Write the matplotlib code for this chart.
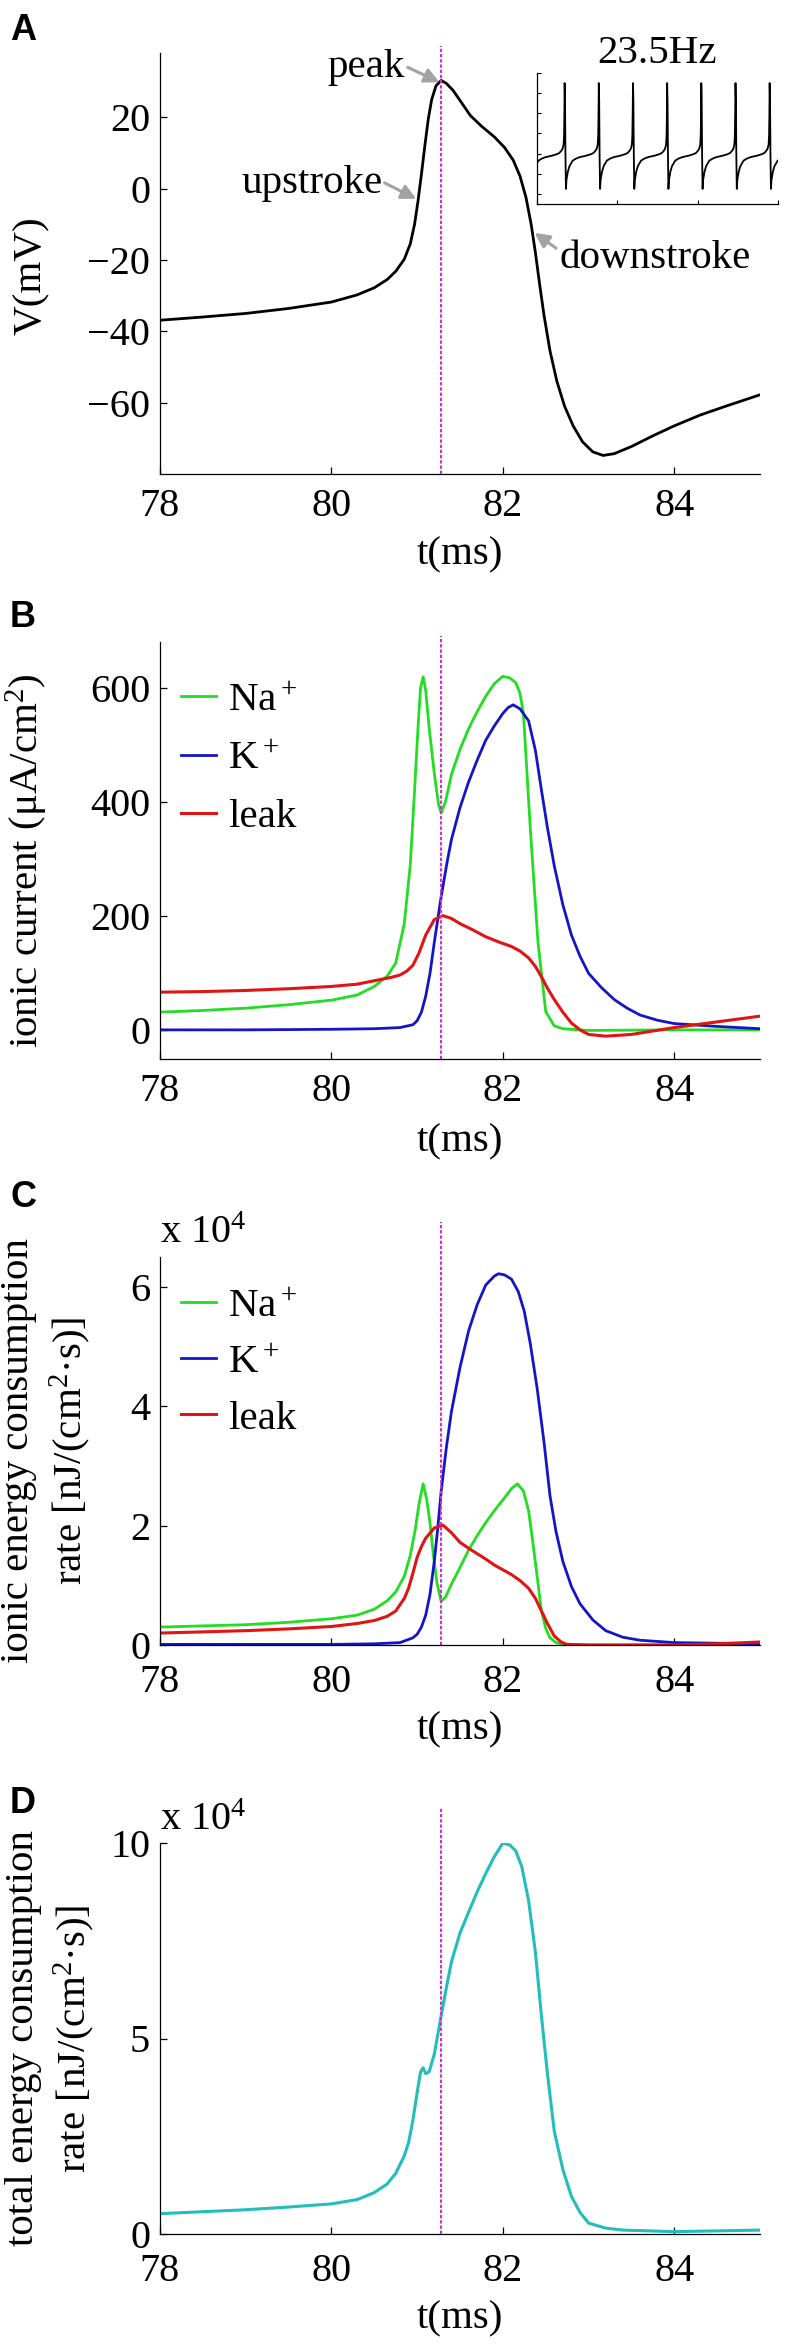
import numpy as np
import matplotlib
matplotlib.use('Agg')
from matplotlib import pyplot as plt

plt.rcParams['font.family'] = ['Liberation Serif', 'DejaVu Serif']
plt.rcParams['mathtext.fontset'] = 'custom'
plt.rcParams['mathtext.rm'] = 'Liberation Serif'
plt.rcParams['mathtext.it'] = 'Liberation Serif:italic'
plt.rcParams['axes.linewidth'] = 0.9

# ---- datos ----
# A: potencial de membrana
tA = [78.0, 78.5, 79.0, 79.5, 80.0, 80.3, 80.5, 80.65, 80.75, 80.85, 80.92, 80.97,
      81.01, 81.05, 81.09, 81.13, 81.17, 81.22, 81.28, 81.34, 81.42, 81.52, 81.62,
      81.75, 81.9, 82.02, 82.12, 82.2, 82.27, 82.33, 82.38, 82.43, 82.48, 82.55,
      82.63, 82.72, 82.82, 82.93, 83.05, 83.17, 83.3, 83.5, 83.75, 84.0, 84.3, 84.6, 85.0]
V = [-36.9, -36.0, -35.0, -33.6, -31.8, -29.8, -27.8, -25.5, -23.2, -19.8, -15.5, -10.0,
     -3.5, 4.0, 12.0, 19.5, 25.0, 28.8, 30.3, 29.5, 27.5, 24.0, 20.5,
     17.5, 14.5, 11.5, 8.0, 3.5, -2.5, -10.0, -18.0, -27.0, -35.5, -45.5,
     -54.0, -61.0, -66.5, -71.0, -73.8, -74.8, -74.3, -72.3, -69.3, -66.5, -63.5, -61.0, -57.8]

# inset: tren de disparos a 23.5 Hz
spike_times = [-8.1, 34.4, 76.9, 119.5, 162.0, 204.5, 247.1, 289.6]
cyc_t = [0, 0.5, 1.0, 1.6, 2.3, 4, 6, 10, 14, 18.7, 27, 33, 36, 38.5, 40, 41.2, 41.8, 42.2]
cyc_v = [30, 12, -40, -75, -66, -58, -52.5, -47, -45, -43.5, -42, -40.5, -39.3, -37, -35, -31, -22, 0]

# B: corrientes ionicas (uA/cm2)
tNa_B = [78, 78.5, 79, 79.5, 80, 80.3, 80.5, 80.65, 80.75, 80.85, 80.92, 80.97, 81.01, 81.04,
         81.07, 81.1, 81.14, 81.2, 81.25, 81.28, 81.33, 81.4, 81.5, 81.6, 81.7, 81.8, 81.9,
         82.0, 82.08, 82.15, 82.2, 82.24, 82.32, 82.41, 82.5, 82.6, 82.7, 83, 84, 85]
INa = [32, 35, 39, 45, 53, 62, 77, 95, 118, 187, 290, 420, 530, 600,
       619, 595, 530, 450, 395, 381, 400, 448, 492, 528, 558, 585, 607,
       620, 617, 609, 590, 555, 354, 154, 33, 8, 3, 0, 1, 1]
tK_B = [78, 79, 80, 80.5, 80.8, 80.95, 81.0, 81.05, 81.1, 81.15, 81.2, 81.28, 81.35, 81.4,
        81.5, 81.6, 81.7, 81.8, 81.9, 82.0, 82.06, 82.12, 82.2, 82.3, 82.38, 82.45, 82.52,
        82.6, 82.7, 82.8, 82.9, 83.0, 83.15, 83.3, 83.45, 83.6, 83.8, 84.0, 84.5, 85]
IK = [1, 1, 2, 3, 5, 10, 17, 32, 60, 100, 154, 234, 295, 334,
      390, 435, 473, 508, 533, 555, 565, 570, 563, 542, 490, 421, 355,
      288, 220, 167, 130, 100, 75, 54, 39, 27, 18, 12, 7, 3]
tL_B = [78, 78.5, 79, 79.5, 80, 80.3, 80.5, 80.7, 80.8, 80.88, 80.95, 81.02, 81.1, 81.2,
        81.3, 81.4, 81.5, 81.65, 81.8, 81.95, 82.1, 82.2, 82.3, 82.38, 82.45, 82.52, 82.6,
        82.7, 82.8, 82.9, 83.0, 83.2, 83.5, 83.75, 84.0, 84.5, 85]
IL = [67, 68, 70, 73, 77, 81, 87, 93, 97, 104, 114, 135, 167, 194,
      201, 196, 187, 176, 164, 155, 147, 139, 127, 112, 94, 74, 54,
      32, 13, 1, -7, -10, -7, -1, 5, 15, 25]

# C: tasa de consumo de energia por canal (nJ/(cm2 s))
tNa_C = [78, 78.5, 79, 79.5, 80, 80.3, 80.5, 80.65, 80.75, 80.85, 80.92, 80.98, 81.02, 81.07,
         81.11, 81.15, 81.19, 81.23, 81.28, 81.33, 81.4, 81.5, 81.6, 81.7, 81.8, 81.9, 82.0,
         82.1, 82.17, 82.24, 82.3, 82.35, 82.4, 82.45, 82.5, 82.55, 82.62, 82.7, 83, 84, 84.5, 85]
ENa = [3000, 3200, 3400, 3800, 4400, 5000, 6000, 7400, 8900, 11500, 15000, 19500, 23500, 27000,
       24500, 20500, 15000, 10500, 7300, 8000, 10200, 13000, 15900, 18300, 20500, 22500, 24300,
       26200, 27000, 25800, 22500, 17200, 11500, 5700, 2800, 1200, 400, 100, 0, 0, 100, 300]
tK_C = [78, 79, 80, 80.5, 80.8, 80.95, 81.0, 81.05, 81.1, 81.15, 81.2, 81.24, 81.28, 81.34,
        81.4, 81.5, 81.6, 81.7, 81.8, 81.9, 81.95, 82.02, 82.1, 82.18, 82.25, 82.32, 82.4,
        82.48, 82.55, 82.62, 82.7, 82.8, 82.9, 83.05, 83.2, 83.4, 83.6, 84, 85]
EK = [100, 100, 100, 200, 400, 1200, 1800, 3000, 5000, 8500, 14000, 19500, 25700, 33000,
      39100, 46500, 52600, 57000, 60300, 61800, 62200, 62000, 61300, 59200, 55900, 50500, 43000,
      34000, 25000, 19000, 14000, 9800, 6900, 4200, 2400, 1300, 800, 400, 200]
tL_C = [78, 78.5, 79, 79.5, 80, 80.3, 80.5, 80.65, 80.75, 80.85, 80.9, 80.95, 81.0, 81.05,
        81.1, 81.2, 81.3, 81.4, 81.5, 81.6, 81.7, 81.8, 81.9, 82.0, 82.1, 82.2, 82.3,
        82.38, 82.45, 82.52, 82.6, 82.68, 82.75, 83, 84, 84.5, 85]
EL = [2000, 2200, 2400, 2700, 3100, 3600, 4100, 4800, 5700, 7800, 9500, 12000, 14700, 16500,
      17900, 19600, 20100, 18800, 17200, 16200, 15300, 14400, 13400, 12600, 11800, 10800, 9500,
      7800, 5700, 3600, 1500, 500, 100, 0, 0, 200, 500]

# D: tasa de consumo total
tD = [78, 78.5, 79, 79.5, 80, 80.3, 80.5, 80.65, 80.75, 80.85, 80.9, 80.95, 81.0, 81.04,
      81.07, 81.1, 81.14, 81.2, 81.28, 81.35, 81.4, 81.5, 81.6, 81.7, 81.8, 81.9, 82.0,
      82.08, 82.15, 82.22, 82.3, 82.38, 82.45, 82.52, 82.6, 82.7, 82.8, 82.9, 83.0, 83.2,
      83.4, 84, 85]
Etot = [5200, 5700, 6200, 6900, 7700, 8800, 10600, 12800, 15500, 20000, 23400, 29000, 36200, 41500,
        42500, 41000, 41500, 46000, 55800, 64000, 69600, 77000, 82300, 87500, 92200, 96500, 100000,
        99500, 98000, 94000, 85300, 72000, 55800, 41000, 26300, 16500, 9600, 5500, 2800, 1500,
        1000, 600, 1000]

t_peak = 81.28

c_na = '#22dd22'
c_k = '#1414c8'
c_leak = '#e01414'
c_tot = '#22bdbd'
c_mag = '#d22ed2'
c_gray = '#a3a3a3'

fs_tick = 29
fs_lab = 29.5
W, H = 787., 2348.

def pos(l, t, r, b):
    return [l / W, 1 - b / H, (r - l) / W, (b - t) / H]

def estilo(ax, yt, xpad, lpad):
    ax.spines['top'].set_visible(False)
    ax.spines['right'].set_visible(False)
    ax.set_xlim(78, 85)
    ax.set_xticks([78, 80, 82, 84])
    ax.set_yticks(yt)
    ax.tick_params(direction='in', length=5, width=0.9, labelsize=fs_tick)
    ax.tick_params(axis='x', pad=xpad)
    ax.tick_params(axis='y', pad=7)
    ax.set_xlabel('t(ms)', fontsize=fs_lab, labelpad=lpad)

fig = plt.figure(figsize=(W / 100, H / 100), dpi=100)

# ---------------- A ----------------
axA = fig.add_axes(pos(160, 53, 760, 474))
axA.plot(tA, V, color='k', lw=2.0)
axA.plot([t_peak, t_peak], [-80, 40], color=c_mag, lw=1.5, ls=(0, (1.6, 0.9)), clip_on=False)
axA.set_ylim(-80, 38)
estilo(axA, [-60, -40, -20, 0, 20], 10, 8)
axA.text(-0.183, 0.47, 'V(mV)', transform=axA.transAxes, rotation=90,
         ha='right', va='center', fontsize=fs_lab)
flecha = dict(arrowstyle='-|>', color=c_gray, lw=2.2, mutation_scale=22, shrinkA=0, shrinkB=0)
axA.annotate('', xy=(81.26, 29.8), xytext=(80.89, 34.0), arrowprops=flecha)
axA.text(80.85, 31.2, 'peak', ha='right', va='baseline', fontsize=fs_lab)
axA.annotate('', xy=(80.99, -2.9), xytext=(80.62, 1.6), arrowprops=flecha)
axA.text(80.6, -1.2, 'upstroke', ha='right', va='baseline', fontsize=fs_lab)
axA.annotate('', xy=(82.37, -12.4), xytext=(82.62, -16.7), arrowprops=flecha)
axA.text(82.66, -22.2, 'downstroke', ha='left', va='baseline', fontsize=fs_lab)

# inset
axI = fig.add_axes(pos(537, 73, 778, 204))
tin, vin = [], []
for s in spike_times:
    tin += [s + c for c in cyc_t]
    vin += cyc_v
axI.plot(tin, vin, color='k', lw=1.3)
axI.set_xlim(0, 300)
axI.set_ylim(-90, 40)
axI.set_xticks([0, 100, 200, 300])
axI.set_yticks([-80, -60, -40, -20, 0, 20, 40])
axI.set_xticklabels([])
axI.set_yticklabels([])
axI.tick_params(direction='in', length=3, width=0.8)
axI.spines['top'].set_visible(False)
axI.spines['right'].set_visible(False)
axI.set_title('23.5Hz', fontsize=fs_lab, pad=7)

# ---------------- B ----------------
axB = fig.add_axes(pos(160, 642, 760, 1059))
axB.plot(tNa_B, INa, color=c_na, lw=2.0, label='Na$^+$')
axB.plot(tK_B, IK, color=c_k, lw=2.0, label='K$^+$')
axB.plot(tL_B, IL, color=c_leak, lw=2.2, label='leak')
axB.plot([t_peak, t_peak], [-50, 690], color=c_mag, lw=1.5, ls=(0, (1.6, 0.9)), clip_on=False)
axB.set_ylim(-50, 680)
estilo(axB, [0, 200, 400, 600], 10, 9.5)
axB.text(-0.183, 0.476, 'ionic current (μA/cm$^2$)', transform=axB.transAxes, rotation=90,
         ha='right', va='center', fontsize=fs_lab)
axB.legend(loc='upper left', bbox_to_anchor=(0.035, 0.904), frameon=False, fontsize=fs_lab,
           handlelength=0.85, handletextpad=0.3, labelspacing=0.5, borderaxespad=0, borderpad=0)

# ---------------- C ----------------
axC = fig.add_axes(pos(160, 1257, 760, 1645))
axC.plot(tNa_C, np.array(ENa) / 1e4, color=c_na, lw=2.0, label='Na$^+$')
axC.plot(tK_C, np.array(EK) / 1e4, color=c_k, lw=2.0, label='K$^+$')
axC.plot(tL_C, np.array(EL) / 1e4, color=c_leak, lw=2.2, label='leak')
axC.plot([t_peak, t_peak], [0, 7.08], color=c_mag, lw=1.5, ls=(0, (1.6, 0.9)), clip_on=False)
axC.set_ylim(0, 6.5)
estilo(axC, [0, 2, 4, 6], 14, 7)
axC.annotate('x 10$^4$', xy=(0, 1), xycoords='axes fraction', xytext=(0, 10),
             textcoords='offset points', ha='left', va='baseline', fontsize=fs_tick)
axC.text(-0.112, 0.5, 'ionic energy consumption\nrate [nJ/(cm$^2$·s)]', transform=axC.transAxes,
         rotation=90, ha='right', va='center', fontsize=fs_lab, linespacing=1.3,
         multialignment='center')
axC.legend(loc='upper left', bbox_to_anchor=(0.035, 0.921), frameon=False, fontsize=fs_lab,
           handlelength=0.85, handletextpad=0.3, labelspacing=0.45, borderaxespad=0, borderpad=0)

# ---------------- D ----------------
axD = fig.add_axes(pos(160, 1843, 760, 2234))
axD.plot(tD, np.array(Etot) / 1e4, color=c_tot, lw=2.2)
axD.plot([t_peak, t_peak], [0, 10.9], color=c_mag, lw=1.5, ls=(0, (1.6, 0.9)), clip_on=False)
axD.set_ylim(0, 10)
estilo(axD, [0, 5, 10], 14, 7)
axD.annotate('x 10$^4$', xy=(0, 1), xycoords='axes fraction', xytext=(0, 9),
             textcoords='offset points', ha='left', va='baseline', fontsize=fs_tick)
axD.text(-0.105, 0.5, 'total energy consumption\nrate [nJ/(cm$^2$·s)]', transform=axD.transAxes,
         rotation=90, ha='right', va='center', fontsize=fs_lab, linespacing=1.3,
         multialignment='center')

# letras de panel
for letra, top in zip('ABCD', [13, 600, 1180, 1786]):
    fig.text(10 / W, 1 - top / H, letra, fontsize=26, fontweight='bold',
             family='Liberation Sans', ha='left', va='top')

fig.savefig('out.png', dpi=100)
plt.close()
